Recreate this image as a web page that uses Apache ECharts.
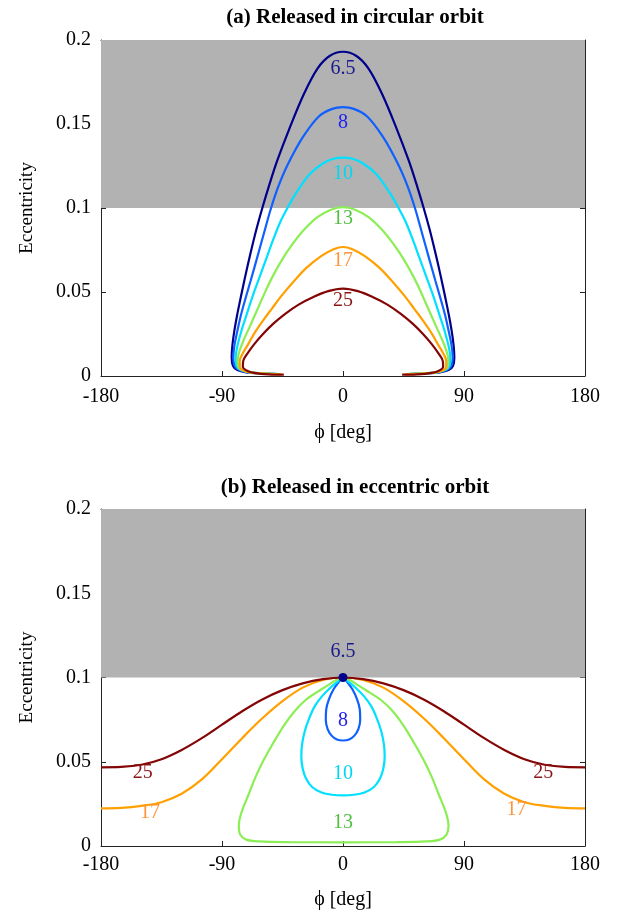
<!DOCTYPE html>
<html>
<head>
<meta charset="utf-8">
<script src="https://cdn.jsdelivr.net/npm/echarts@6/dist/echarts.min.js"></script>
<style>
  html, body { margin: 0; padding: 0; background: #fff; }
  #chart { width: 623px; height: 917px; }
</style>
</head>
<body>
<div id="chart"></div>
<script>
// Curve levels shown in both panels
const levels = ['6.5', '8', '10', '13', '17', '25'];

// (a) released in circular orbit: [phi (deg), eccentricity]
const circ65 = [[-50,0.0012],[-62,0.0016],[-72,0.0022],[-78.5,0.0035],[-81.8,0.006],[-82.8,0.011],[-82.3,0.018],[-81,0.026],[-78.8,0.036],[-76,0.047],[-72.8,0.059],[-68.8,0.073],[-64.5,0.087],[-60,0.1],[-55.5,0.112],[-49,0.128],[-40,0.147],[-29,0.168],[-19,0.183],[-10,0.1905],[0,0.193],[10,0.1905],[19,0.183],[29,0.168],[40,0.147],[49,0.128],[55.5,0.112],[60,0.1],[64.5,0.087],[68.8,0.073],[72.8,0.059],[76,0.047],[78.8,0.036],[81,0.026],[82.3,0.018],[82.8,0.011],[81.8,0.006],[78.5,0.0035],[72,0.0022],[62,0.0016],[50,0.0012]];
const circ8 = [[-49,0.0012],[-61,0.0016],[-71,0.0022],[-77,0.0035],[-80.5,0.006],[-81.6,0.011],[-80.8,0.018],[-78.8,0.026],[-76,0.036],[-72.6,0.046],[-68.6,0.057],[-64,0.07],[-58.8,0.085],[-53.5,0.1],[-48,0.113],[-41,0.126],[-30,0.142],[-18,0.1545],[-8,0.159],[0,0.160],[8,0.159],[18,0.1545],[30,0.142],[41,0.126],[48,0.113],[53.5,0.1],[58.8,0.085],[64,0.07],[68.6,0.057],[72.6,0.046],[76,0.036],[78.8,0.026],[80.8,0.018],[81.6,0.011],[80.5,0.006],[77,0.0035],[71,0.0022],[61,0.0016],[49,0.0012]];
const circ10 = [[-48,0.0012],[-60,0.0016],[-70,0.0022],[-76,0.0035],[-79.2,0.006],[-79.8,0.011],[-78.5,0.018],[-75.5,0.027],[-71.5,0.037],[-67,0.048],[-62,0.059],[-57,0.07],[-52,0.081],[-46.5,0.092],[-41,0.1005],[-34,0.11],[-25,0.12],[-15,0.1265],[-7,0.1293],[0,0.130],[7,0.1293],[15,0.1265],[25,0.12],[34,0.11],[41,0.1005],[46.5,0.092],[52,0.081],[57,0.07],[62,0.059],[67,0.048],[71.5,0.037],[75.5,0.027],[78.5,0.018],[79.8,0.011],[79.2,0.006],[76,0.0035],[70,0.0022],[60,0.0016],[48,0.0012]];
const circ13 = [[-47,0.0012],[-59,0.0016],[-69,0.0022],[-75,0.0035],[-78,0.006],[-78.3,0.01],[-76.5,0.016],[-73,0.023],[-69,0.03],[-64,0.039],[-58.5,0.049],[-52.5,0.059],[-45.5,0.069],[-38,0.078],[-29,0.087],[-19,0.0945],[-9,0.099],[0,0.1005],[9,0.099],[19,0.0945],[29,0.087],[38,0.078],[45.5,0.069],[52.5,0.059],[58.5,0.049],[64,0.039],[69,0.03],[73,0.023],[76.5,0.016],[78.3,0.01],[78,0.006],[75,0.0035],[69,0.0022],[59,0.0016],[47,0.0012]];
const circ17 = [[-46,0.001],[-58,0.0014],[-68,0.002],[-74,0.0032],[-76.8,0.0055],[-76.8,0.009],[-74.5,0.0135],[-70.5,0.019],[-65.5,0.026],[-59.5,0.033],[-53,0.040],[-45.5,0.048],[-37,0.056],[-27,0.0645],[-16,0.0715],[-7,0.0755],[0,0.0768],[7,0.0755],[16,0.0715],[27,0.0645],[37,0.056],[45.5,0.048],[53,0.040],[59.5,0.033],[65.5,0.026],[70.5,0.019],[74.5,0.0135],[76.8,0.009],[76.8,0.0055],[74,0.0032],[68,0.002],[58,0.0014],[46,0.001]];
const circ25 = [[-44,0.0008],[-55,0.001],[-65,0.0017],[-71,0.003],[-74.5,0.0055],[-74.2,0.009],[-71,0.0135],[-66,0.019],[-59.5,0.025],[-52,0.031],[-43,0.037],[-33,0.0425],[-22,0.047],[-11,0.0505],[0,0.052],[11,0.0505],[22,0.047],[33,0.0425],[43,0.037],[52,0.031],[59.5,0.025],[66,0.019],[71,0.0135],[74.2,0.009],[74.5,0.0055],[71,0.003],[65,0.0017],[55,0.001],[44,0.0008]];

// (b) released in eccentric orbit: [phi (deg), eccentricity]
const ecc65 = [[0,0.1]];
const ecc8 = [[0,0.1],[-3,0.0975],[-7,0.093],[-10.5,0.087],[-12.5,0.081],[-12.8,0.075],[-11.5,0.0695],[-8.5,0.0655],[-4.5,0.0632],[0,0.0626],[4.5,0.0632],[8.5,0.0655],[11.5,0.0695],[12.8,0.075],[12.5,0.081],[10.5,0.087],[7,0.093],[3,0.0975],[0,0.1]];
const ecc10 = [[0,0.1],[-4,0.0975],[-10,0.0935],[-16,0.0885],[-21,0.083],[-25,0.076],[-28.5,0.068],[-30.5,0.060],[-31,0.053],[-30,0.046],[-27.5,0.040],[-23,0.0350],[-16,0.0318],[-8,0.0304],[0,0.0300],[8,0.0304],[16,0.0318],[23,0.0350],[27.5,0.040],[30,0.046],[31,0.053],[30.5,0.060],[28.5,0.068],[25,0.076],[21,0.083],[16,0.0885],[10,0.0935],[4,0.0975],[0,0.1]];
const ecc13 = [[0,0.1],[-5,0.0985],[-12,0.095],[-20,0.091],[-28,0.0865],[-36,0.080],[-44,0.0715],[-52,0.061],[-59,0.051],[-65,0.041],[-70,0.031],[-75.5,0.020],[-77.5,0.012],[-76.5,0.0068],[-72,0.0038],[-62,0.0027],[-40,0.0023],[0,0.0022],[40,0.0023],[62,0.0027],[72,0.0038],[77,0.0068],[78.5,0.012],[76.5,0.020],[71,0.031],[66,0.041],[60,0.051],[53,0.061],[45,0.0715],[37,0.080],[28.5,0.0865],[20,0.091],[12,0.095],[5,0.0985],[0,0.1]];
const ecc17 = [[-180,0.0223],[-165,0.0226],[-150,0.0238],[-135,0.0260],[-120,0.031],[-105,0.0395],[-90,0.0515],[-75,0.0640],[-60,0.0758],[-45,0.0860],[-30,0.0940],[-15,0.0985],[0,0.1],[15,0.0985],[30,0.0940],[45,0.0860],[60,0.0758],[75,0.0640],[90,0.0515],[105,0.0395],[120,0.031],[135,0.0260],[150,0.0238],[165,0.0226],[180,0.0223]];
const ecc25 = [[-180,0.0467],[-165,0.0469],[-150,0.0482],[-135,0.0515],[-120,0.0570],[-105,0.0640],[-90,0.0720],[-75,0.0800],[-60,0.0870],[-45,0.0925],[-30,0.0965],[-15,0.0990],[0,0.1],[15,0.0990],[30,0.0965],[45,0.0925],[60,0.0870],[75,0.0800],[90,0.0720],[105,0.0640],[120,0.0570],[135,0.0515],[150,0.0482],[165,0.0469],[180,0.0467]];

// Curve label anchors: [phi, eccentricity, level]
const circLabels = [[0,0.183,'6.5'],[0,0.151,'8'],[0,0.1205,'10'],[0,0.0935,'13'],[0,0.0685,'17'],[0,0.045,'25']];
const eccLabels = [[0,0.1153,'6.5'],[0,0.0745,'8'],[0,0.0427,'10'],[0,0.0139,'13'],[-143.5,0.0195,'17'],[129,0.0218,'17'],[-149,0.0437,'25'],[149,0.0437,'25']];

// Unstable (shaded) eccentricity band
const shadeBand = [0.1, 0.2];

const lineColors = { '6.5': '#00008c', '8': '#1060ff', '10': '#00e0ff', '13': '#8cee55', '17': '#ffa000', '25': '#840505' };
const textColors = { '6.5': '#1a1a8c', '8': '#2020f0', '10': '#00d8f0', '13': '#50bf40', '17': '#ff9438', '25': '#8c1414' };

const serif = "'Liberation Serif', 'Times New Roman', serif";

const chart = echarts.init(document.getElementById('chart'), null, { renderer: 'canvas' });

function xAxes(grid, labelMargin, nameGap) {
  const common = {
    gridIndex: grid, type: 'value', min: -180, max: 180, interval: 90,
    axisLine: { show: true, onZero: false, lineStyle: { color: '#222', width: 1 } },
    axisTick: { show: true, inside: true, length: 5, lineStyle: { color: '#222' } },
    splitLine: { show: false }
  };
  return [
    Object.assign({}, common, {
      position: 'bottom',
      axisLabel: { show: true, margin: labelMargin, color: '#000', fontFamily: serif, fontSize: 20,
        formatter: v => String(v) },
      name: 'ϕ [deg]', nameLocation: 'middle', nameGap: nameGap,
      nameTextStyle: { fontFamily: serif, fontSize: 20, color: '#000' }
    }),
    Object.assign({}, common, { position: 'top', axisLabel: { show: false } })
  ];
}
function yAxes(grid) {
  const common = {
    gridIndex: grid, type: 'value', min: 0, max: 0.2, interval: 0.05,
    axisLine: { show: true, onZero: false, lineStyle: { color: '#222', width: 1 } },
    axisTick: { show: true, inside: true, length: 5, lineStyle: { color: '#222' } },
    splitLine: { show: false }
  };
  return [
    Object.assign({}, common, {
      position: 'left',
      axisLabel: { show: true, margin: 10, color: '#000', fontFamily: serif, fontSize: 20 },
      name: 'Eccentricity', nameLocation: 'middle', nameGap: 64,
      nameTextStyle: { fontFamily: serif, fontSize: 19, color: '#000' }
    }),
    Object.assign({}, common, { position: 'right', axisLabel: { show: false } })
  ];
}

function band(grid) {
  return {
    type: 'scatter', xAxisIndex: grid * 2, yAxisIndex: grid * 2, z: 1, silent: true,
    data: [[0, 0.15]], symbolSize: 0,
    markArea: {
      silent: true,
      itemStyle: { color: '#b2b2b2', opacity: 1 },
      data: [[{ yAxis: shadeBand[0] }, { yAxis: shadeBand[1] }]]
    }
  };
}
function curve(grid, data, level) {
  return {
    type: 'line', xAxisIndex: grid * 2, yAxisIndex: grid * 2, z: 3,
    data: data, showSymbol: false, smooth: 0.35, silent: true,
    lineStyle: { color: lineColors[level], width: 2.2 }
  };
}
function labels(grid, items) {
  return {
    type: 'scatter', xAxisIndex: grid * 2, yAxisIndex: grid * 2, z: 5, silent: true,
    symbolSize: 0, itemStyle: { opacity: 1 },
    data: items.map(d => ({
      value: [d[0], d[1]], name: d[2],
      label: { show: true, position: 'inside', formatter: d[2], color: textColors[d[2]],
        opacity: 1, fontFamily: serif, fontSize: 20 }
    }))
  };
}

const option = {
  backgroundColor: '#fff',
  animation: false,
  title: [
    { text: '(a) Released in circular orbit', left: 350, top: 2, textAlign: 'center',
      textStyle: { fontFamily: serif, fontSize: 21, fontWeight: 'bold', color: '#000' } },
    { text: '(b) Released in eccentric orbit', left: 350, top: 472, textAlign: 'center',
      textStyle: { fontFamily: serif, fontSize: 21, fontWeight: 'bold', color: '#000' } }
  ],
  grid: [
    { left: 101, top: 40, width: 484, height: 336 },
    { left: 101, top: 509, width: 484, height: 337 }
  ],
  xAxis: xAxes(0, 11, 47).concat(xAxes(1, 9, 44)),
  yAxis: yAxes(0).concat(yAxes(1)),
  series: [
    band(0),
    curve(0, circ65, '6.5'), curve(0, circ8, '8'), curve(0, circ10, '10'),
    curve(0, circ13, '13'), curve(0, circ17, '17'), curve(0, circ25, '25'),
    labels(0, circLabels),
    band(1),
    curve(1, ecc8, '8'), curve(1, ecc10, '10'), curve(1, ecc13, '13'),
    curve(1, ecc17, '17'), curve(1, ecc25, '25'),
    {
      type: 'scatter', xAxisIndex: 2, yAxisIndex: 2, z: 6, silent: true,
      data: ecc65, symbolSize: 9, itemStyle: { color: lineColors['6.5'], opacity: 1 }
    },
    labels(1, eccLabels)
  ]
};
chart.setOption(option);
</script>
</body>
</html>
